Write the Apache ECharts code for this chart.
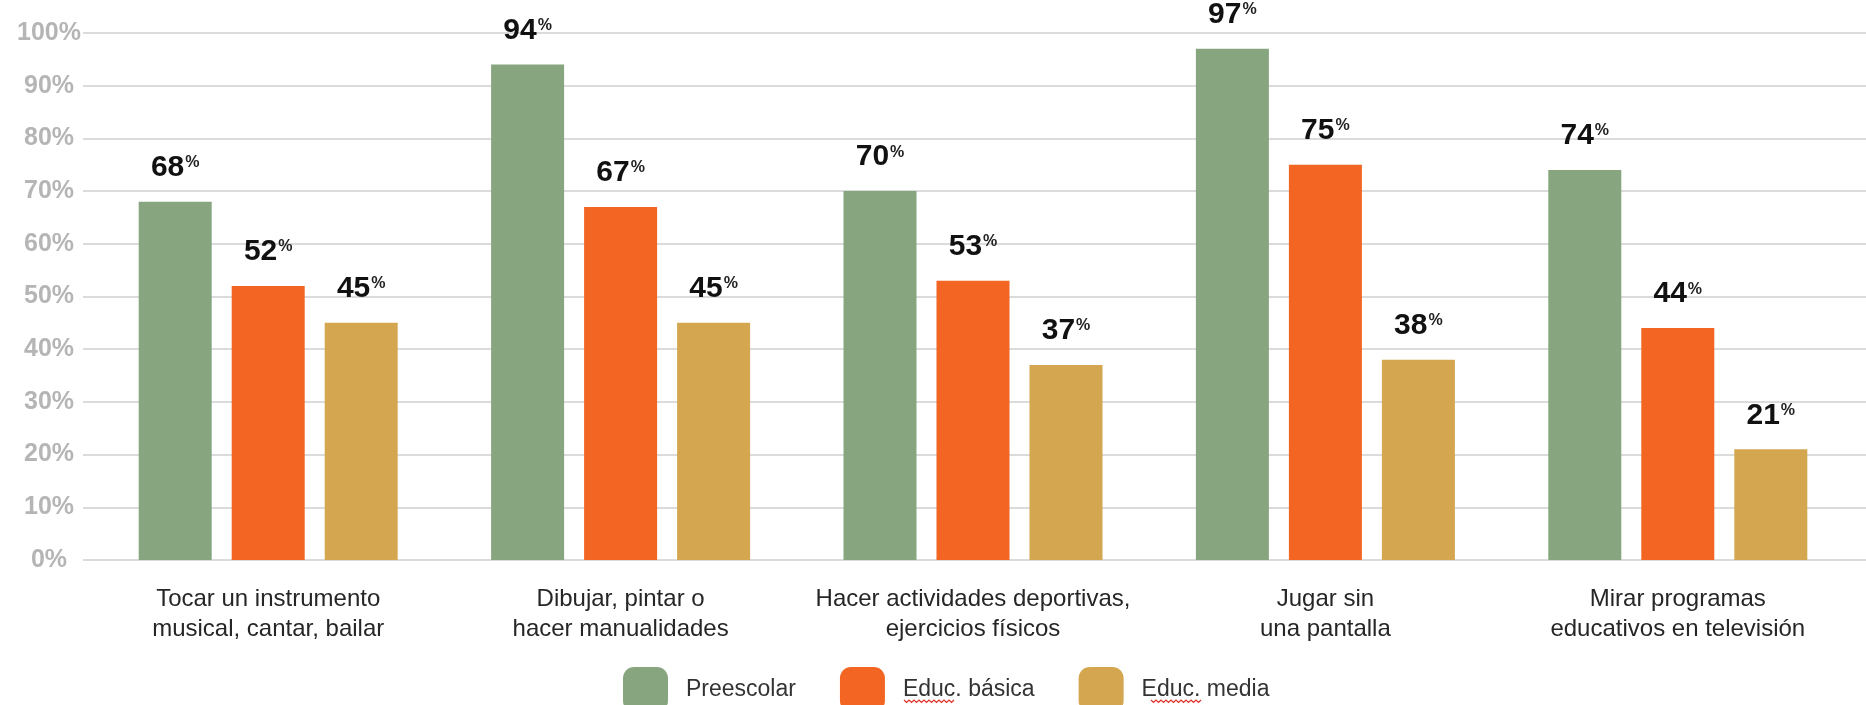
<!DOCTYPE html>
<html>
<head>
<meta charset="utf-8">
<script src="https://cdn.jsdelivr.net/npm/echarts@6/dist/echarts.min.js"></script>
<style>
html,body{margin:0;padding:0;background:#fff;}
#chart{width:1866px;height:705px;}
</style>
</head>
<body>
<div id="chart"></div>
<script>
const categories = [
  'Tocar un instrumento\nmusical, cantar, bailar',
  'Dibujar, pintar o\nhacer manualidades',
  'Hacer actividades deportivas,\nejercicios físicos',
  'Jugar sin\nuna pantalla',
  'Mirar programas\neducativos en televisión'
];
const seriesNames = ['Preescolar', 'Educ. básica', 'Educ. media'];
const preescolar = [68, 94, 70, 97, 74];
const educBasica = [52, 67, 53, 75, 44];
const educMedia = [45, 45, 37, 38, 21];
const yTicks = [0, 10, 20, 30, 40, 50, 60, 70, 80, 90, 100];

const colors = ['#87a57f', '#f26522', '#d4a650'];
const FONT = '"Liberation Sans", Arial, sans-serif';

const chart = echarts.init(document.getElementById('chart'), null, {renderer: 'canvas'});

function barSeries(name, data, color) {
  return {
    name: name,
    type: 'bar',
    xAxisIndex: 1,
    yAxisIndex: 1,
    data: data,
    barWidth: 73,
    barGap: '27.4%',
    itemStyle: {color: color},
    label: {
      show: true,
      position: 'top',
      distance: 19,
      formatter: p => '{v|' + p.value + '}{p|%}',
      rich: {
        v: {fontFamily: FONT, fontSize: 30, fontWeight: 'bold', color: '#111', lineHeight: 32, verticalAlign: 'bottom'},
        p: {fontFamily: FONT, fontSize: 16, fontWeight: 'bold', color: '#222', lineHeight: 32, verticalAlign: 'top', padding: [4, 0, 0, 1]}
      }
    }
  };
}

// spell-check style wavy underline (decoration)
function squiggle(x0, x1, y) {
  const pts = [];
  let up = true;
  for (let x = x0; x <= x1; x += 2.5) {
    pts.push([x, up ? y : y + 2.5]);
    up = !up;
  }
  return {type: 'polyline', silent: true, shape: {points: pts},
          style: {stroke: '#e0302a', lineWidth: 1.2, fill: null}};
}

const option = {
  animation: false,
  backgroundColor: '#ffffff',
  grid: [
    {left: 83, right: 0, top: 33, bottom: 145, containLabel: false},
    {left: 92, right: 12, top: 33, bottom: 145, containLabel: false}
  ],
  legend: {
    data: seriesNames,
    left: 618,
    top: 662,
    itemWidth: 45,
    itemHeight: 45,
    itemGap: 44,
    icon: 'roundRect',
    textStyle: {fontFamily: FONT, fontSize: 23, color: '#333', padding: [0, 0, 0, 13]}
  },
  graphic: [
    squiggle(904, 956, 700),
    squiggle(1151, 1203, 700)
  ],
  xAxis: [
    {type: 'category', gridIndex: 0, data: categories, show: false},
    {
      type: 'category', gridIndex: 1, data: categories,
      axisLine: {show: false}, axisTick: {show: false},
      axisLabel: {
        margin: 24, fontFamily: FONT, fontSize: 24, lineHeight: 30, color: '#262626', interval: 0
      }
    }
  ],
  yAxis: [
    {
      type: 'value', gridIndex: 0, min: yTicks[0], max: yTicks[yTicks.length - 1], interval: 10,
      axisLine: {show: false}, axisTick: {show: false},
      splitLine: {show: true, lineStyle: {color: '#cfcfcf', width: 1.5}},
      axisLabel: {
        margin: 34, align: 'center', fontFamily: FONT, fontSize: 25, fontWeight: 'bold', color: '#b5b5b5',
        formatter: v => v + '%'
      }
    },
    {
      type: 'value', gridIndex: 1, min: yTicks[0], max: yTicks[yTicks.length - 1], interval: 10,
      show: false, splitLine: {show: false}
    }
  ],
  series: [
    barSeries(seriesNames[0], preescolar, colors[0]),
    barSeries(seriesNames[1], educBasica, colors[1]),
    barSeries(seriesNames[2], educMedia, colors[2])
  ]
};
chart.setOption(option);
</script>
</body>
</html>
